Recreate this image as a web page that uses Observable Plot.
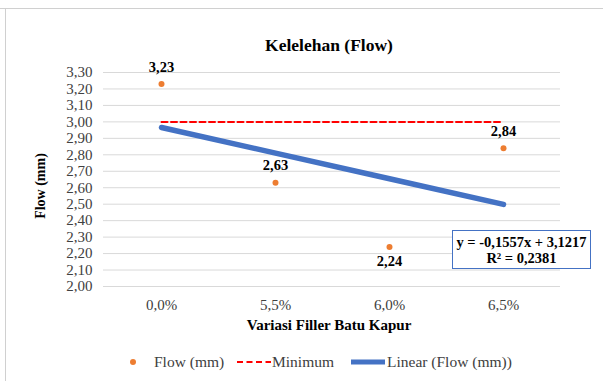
<!DOCTYPE html>
<html><head><meta charset="utf-8">
<script src="https://cdn.jsdelivr.net/npm/d3@7"></script>
<script src="https://cdn.jsdelivr.net/npm/@observablehq/plot@0.6"></script>
<style>
body{margin:0;background:#fff;}
#wrap{position:relative;width:603px;height:381px;overflow:hidden;font-family:"Liberation Serif","Times New Roman",serif;}
#wrap > svg{position:absolute;left:0;top:0;}
.abs{position:absolute;white-space:nowrap;}
#title{left:0;width:658px;text-align:center;top:35px;font-weight:bold;font-size:17.5px;color:#000;}
#xlab{left:0;width:658px;text-align:center;top:317px;font-weight:bold;font-size:15px;color:#000;}
#ylab{left:41px;top:186px;transform:translate(-50%,-50%) rotate(-90deg);font-weight:bold;font-size:14px;color:#000;}
.leg{position:absolute;top:353px;height:18px;font-size:15.5px;color:#404040;display:flex;align-items:center;}
#eq{left:452px;top:230px;width:139px;height:39px;border:1.2px solid #4472c4;background:#fff;text-align:center;font-weight:bold;font-size:14.5px;line-height:15.5px;padding-top:4px;box-sizing:border-box;color:#000;}
#borderTop{left:0;top:8px;width:603px;height:1px;background:#d0d0d0;}
#borderLeft{left:5px;top:8px;width:1px;height:373px;background:#d0d0d0;}
</style></head>
<body>
<div id="wrap">
<div class="abs" id="borderTop"></div>
<div class="abs" id="borderLeft"></div>
</div>
<script>
const categories = ["0,0%", "5,5%", "6,0%", "6,5%"];
const flow = [3.23, 2.63, 2.24, 2.84];
const minimum = [3.00, 3.00, 3.00, 3.00];
const slope = -0.1557, intercept = 3.1217, r2 = 0.2381;
const yTicks = [2.0,2.1,2.2,2.3,2.4,2.5,2.6,2.7,2.8,2.9,3.0,3.1,3.2,3.3];

const fmt = (v, n) => v.toFixed(n).replace(".", ",");
const rows = categories.map((c, i) => ({cat: c, flow: flow[i], min: minimum[i], trend: slope * (i + 1) + intercept}));
const lowest = d3.min(flow);

const chart = Plot.plot({
  width: 603, height: 381,
  marginLeft: 103, marginRight: 43, marginTop: 72, marginBottom: 95,
  style: {fontFamily: "Liberation Serif, Times New Roman, serif", background: "transparent"},
  x: {type: "point", domain: categories, padding: 0.5, label: null},
  y: {domain: [2.0, 3.3], label: null},
  marks: [
    Plot.ruleY(yTicks, {stroke: "#d9d9d9", strokeWidth: 1}),
    Plot.axisY({ticks: yTicks, tickFormat: d => fmt(d, 2), tickSize: 0, tickPadding: 11, fontSize: 15, fill: "#404040", label: null}),
    Plot.axisX({tickSize: 0, tickPadding: 13, fontSize: 15, fill: "#404040", label: null}),
    Plot.line(rows, {x: "cat", y: "min", stroke: "#ff0000", strokeWidth: 2, strokeDasharray: "6,3.5"}),
    Plot.line(rows, {x: "cat", y: "trend", stroke: "#4472c4", strokeWidth: 5.5}),
    Plot.dot(rows, {x: "cat", y: "flow", r: 3, fill: "#ed7d31", stroke: "none"}),
    Plot.text(rows.filter(d => d.flow !== lowest), {x: "cat", y: "flow", text: d => fmt(d.flow, 2), dy: -17, fontWeight: "bold", fontSize: 14.5, fill: "#000"}),
    Plot.text(rows.filter(d => d.flow === lowest), {x: "cat", y: "flow", text: d => fmt(d.flow, 2), dy: 14, fontWeight: "bold", fontSize: 14.5, fill: "#000"})
  ]
});
const wrap = document.getElementById("wrap");
wrap.appendChild(chart);

const add = (id, html, cls = "abs", style = "") => { const d = document.createElement("div"); d.className = cls; if (id) d.id = id; d.innerHTML = html; if (style) d.style.cssText = style; wrap.appendChild(d); return d; };
add("title", "Kelelehan (Flow)");
add("xlab", "Variasi Filler Batu Kapur");
add("ylab", "Flow (mm)");
add("eq", `y = ${fmt(slope,4)}x + ${fmt(intercept,4)}<br>R² = ${fmt(r2,4)}`);
add(null, `<svg width="10" height="10"><circle cx="5" cy="5" r="3" fill="#ed7d31"/></svg>`, "leg", "left:128px");
add(null, "Flow (mm)", "leg", "left:154px");
add(null, `<svg width="36" height="10"><line x1="1" x2="35" y1="5" y2="5" stroke="#ff0000" stroke-width="2" stroke-dasharray="6,3.5"/></svg>`, "leg", "left:236px");
add(null, "Minimum", "leg", "left:272px");
add(null, `<svg width="36" height="10"><line x1="1" x2="35" y1="5" y2="5" stroke="#4472c4" stroke-width="5"/></svg>`, "leg", "left:350px");
add(null, "Linear (Flow (mm))", "leg", "left:387px");
</script>
</body></html>
